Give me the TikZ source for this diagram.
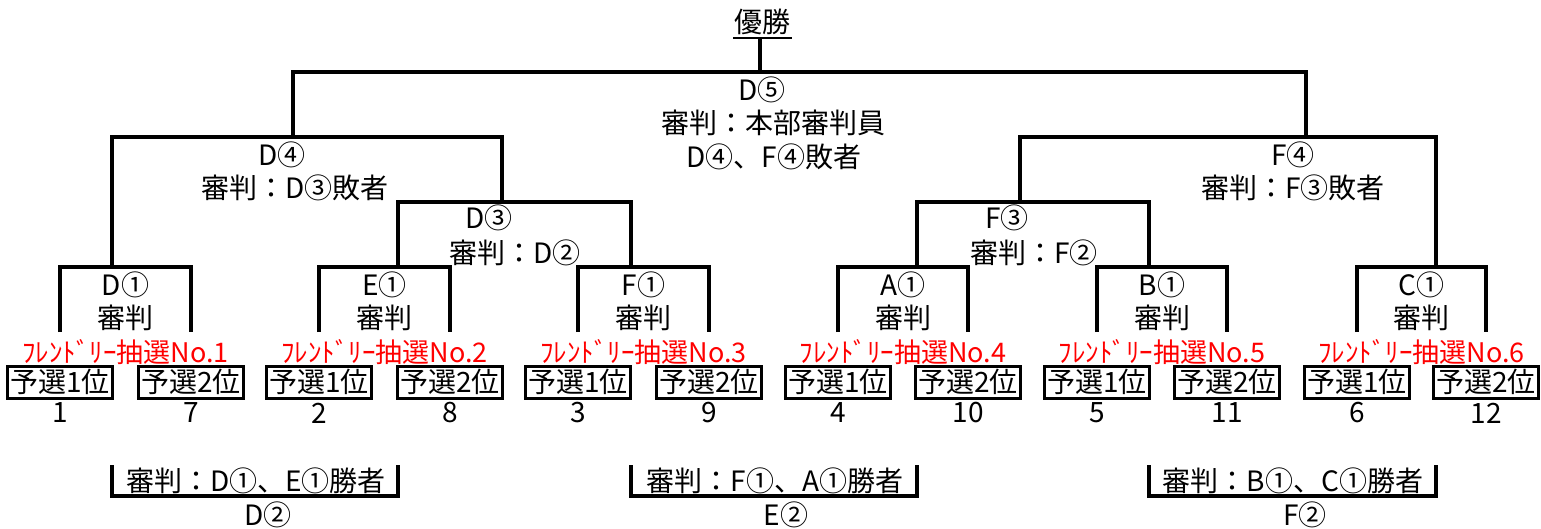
\documentclass[tikz,border=0pt]{standalone}
\usepackage{fontspec}
\setmainfont{Noto Sans CJK JP}
\usepackage{tikz}
\usetikzlibrary{positioning}
\usepackage{xcolor}

\begin{document}
\begin{tikzpicture}[x=1pt,y=-1pt,line width=3.2pt,
                    font=\fontsize{28}{33}\selectfont]
  \tikzstyle{word}=[inner sep=0pt,align=center]
  \tikzstyle{red word}=[inner sep=0pt,text=red,font=\fontsize{27}{30}\selectfont]
  \tikzstyle{seed}=[draw,line width=3pt,minimum width=105pt,minimum height=32pt,inner sep=0pt]

  \useasboundingbox (0,0) rectangle (1541,529);

  % first round
  \foreach \i/\l/\r/\s/\grp/\sa/\sb in {1/60/191/112/D/1/7, 2/319/450/398/E/2/8,
        3/578/709/631/F/3/9, 4/838/968/917/A/4/10, 5/1097/1227/1149/B/5/11,
        6/1357/1486/1436/C/6/12}
  {
    \coordinate (m\i l) at (\l,267);
    \coordinate (m\i r) at (\r,267);
    \coordinate (m\i lb) at (\l,332);
    \coordinate (m\i rb) at (\r,332);
    \coordinate (m\i s) at (\s,267);
    \coordinate (m\i b) at (\s,465);
    \coordinate (m\i c) at (\s,496);
    \draw (m\i lb) -- (m\i l) -- (m\i r) -- (m\i rb);
    \node[word] (m\i t) at ({(\l+\r)/2},301) {{\grp}①\\審判};
    \node[red word] (draw\i) at ({(\l+\r)/2},352) {ﾌﾚﾝﾄﾞﾘｰ抽選No.\i};
    \node[seed] (s\i a) at (\l,382) {予選1位};
    \node[seed] (s\i b) at (\r,382) {予選2位};
    \node[word] (n\i a) at (\l,413) {\sa};
    \node[word] (n\i b) at (\r,413) {\sb};
  }

  % second round, drawn below
  \foreach \j/\a/\b/\cx/\nx/\who in {D/1/2/256/268/{D①、E①}, E/3/4/775/786/{F①、A①},
        F/5/6/1293/1305/{B①、C①}}
  {
    \draw (m\a b) -- (m\a c) -- (m\b c) -- (m\b b);
    \node[word] (r\j) at (\cx,481) {審判：\who 勝者};
    \node[word] (r\j n) at (\nx,515) {{\j}②};
  }

  % upper brackets
  \coordinate (d4l) at (112,137);
  \coordinate (d4r) at (502,137);
  \coordinate (d4s) at (293,137);
  \coordinate (d3l) at (398,202);
  \coordinate (d3r) at (631,202);
  \coordinate (d3s) at (502,202);
  \coordinate (f4l) at (1020,137);
  \coordinate (f4r) at (1436,137);
  \coordinate (f4s) at (1306,137);
  \coordinate (f3l) at (917,202);
  \coordinate (f3r) at (1149,202);
  \coordinate (f3s) at (1020,202);
  \coordinate (f5l) at (293,72);
  \coordinate (f5r) at (1306,72);
  \coordinate (f5s) at (760,72);

  \draw (m2s) -- (d3l) -- (d3r) -- (m3s);
  \draw (m1s) -- (d4l) -- (d4r) -- (d3s);
  \draw (m4s) -- (f3l) -- (f3r) -- (m5s);
  \draw (f3s) -- (f4l) -- (f4r) -- (m6s);
  \draw (d4s) -- (f5l) -- (f5r) -- (f4s);

  \node[word] (d3) at (489,218) {D③};
  \node[word] (d3j) at (515,253) {審判：D②};
  \node[word] (f3) at (1007,218) {F③};
  \node[word] (f3j) at (1034,253) {審判：F②};
  \node[word] (d4) at (282,155) {D④};
  \node[word] (d4j) at (295,188) {審判：D③敗者};
  \node[word] (f4) at (1293,155) {F④};
  \node[word] (f4j) at (1293,188) {審判：F③敗者};
  \node[word] (d5) at (762,90) {D⑤};
  \node[word] (d5j) at (773,123) {審判：本部審判員};
  \node[word] (d5k) at (774,157) {D④、F④敗者};

  % champion
  \node[word] (win) at (762,22) {優勝};
  \coordinate (winl) at (733,38);
  \coordinate (winr) at (792,38);
  \coordinate (wins) at (760,38);
  \draw[line width=2pt] (winl) -- (winr);
  \draw (wins) -- (f5s);
\end{tikzpicture}
\end{document}
